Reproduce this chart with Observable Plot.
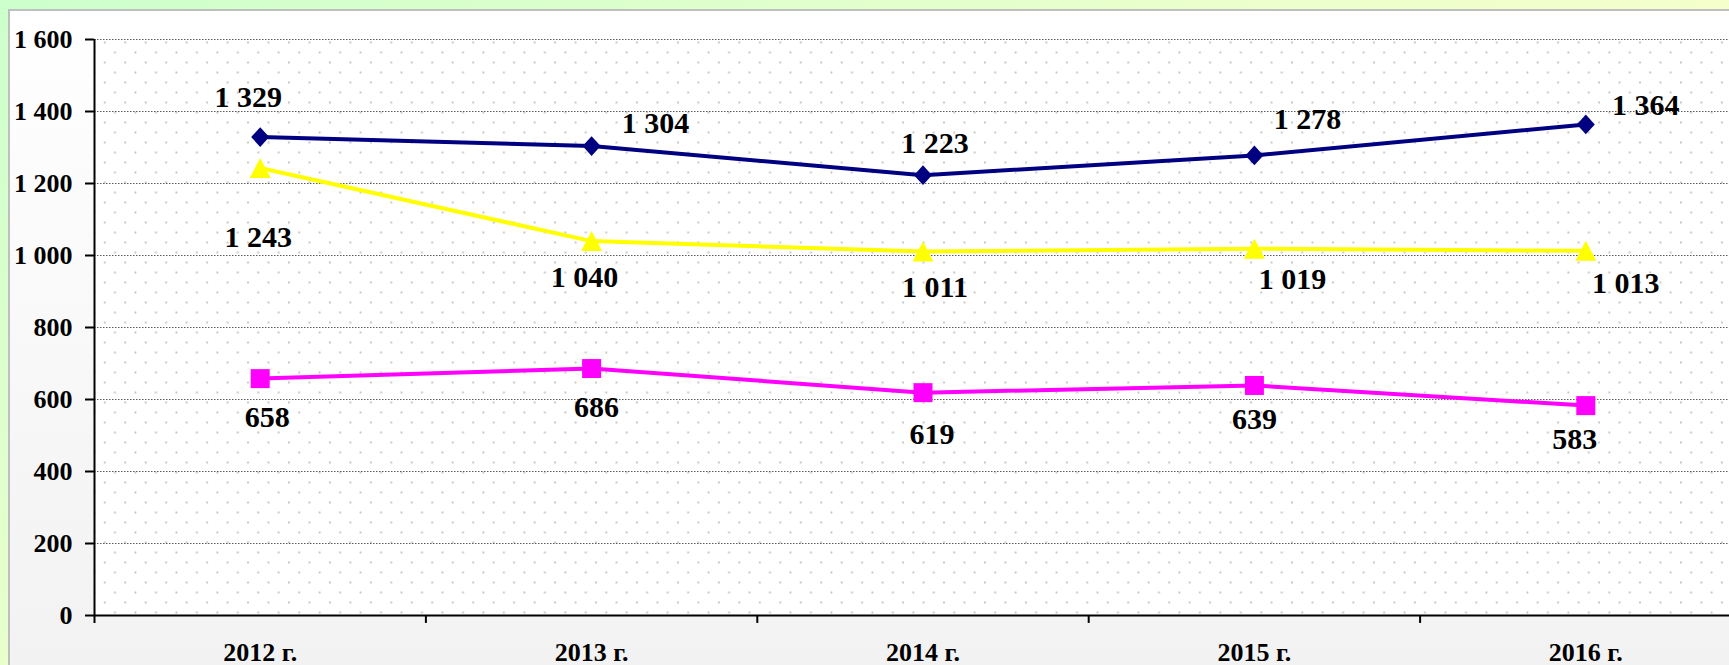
<!DOCTYPE html>
<html>
<head>
<meta charset="utf-8">
<script src="https://cdn.jsdelivr.net/npm/d3@7"></script>
<script src="https://cdn.jsdelivr.net/npm/@observablehq/plot@0.6"></script>
<style>
  html, body { margin: 0; padding: 0; width: 1729px; height: 665px; overflow: hidden; }
  body { position: relative; background: linear-gradient(150deg, #ccffcc 0%, #ecffcc 45%, #ffffcc 80%); }
  #panel { position: absolute; left: 8px; top: 9px; width: 1760px; height: 700px;
           border-left: 2px solid #bfbfbf; border-top: 2px solid #bfbfbf;
           background: linear-gradient(to bottom, #ffffff 0%, #f1f1f1 100%); }
  #chart { position: absolute; left: 0; top: 0; }
</style>
</head>
<body>
<div id="panel"></div>
<div id="chart"></div>
<script>
// ---- data ----
const years = ["2012 г.", "2013 г.", "2014 г.", "2015 г.", "2016 г."];
const seriesNavy = [1329, 1304, 1223, 1278, 1364];
const seriesYellow = [1243, 1040, 1011, 1019, 1013];
const seriesMagenta = [658, 686, 619, 639, 583];
const yTicks = [0, 200, 400, 600, 800, 1000, 1200, 1400, 1600];

// label nudges (pixels) relative to each point
const nudgeNavy = [[-12, -40], [64, -23], [12, -32], [53, -36], [60, -19]];
const nudgeYellow = [[-2, 69], [-7, 36], [12, 36], [38, 31], [40, 33]];
const nudgeMagenta = [[7, 39], [5, 39], [9, 42], [0, 34], [-11, 34]];

// ---- layout ----
const W = 1760, H = 665;
const mL = 94, mT = 39, mB = 50, mR = W - 1751;
const step = (W - mR - mL) / years.length;
const serif = "'Liberation Serif', 'Times New Roman', serif";
const fmt = d => d3.format(",")(d).replace(/,/g, " ");

const diamondSym = {draw(ctx, size) { const r = Math.sqrt(size / Math.PI);
  ctx.moveTo(0, -r * 1.1); ctx.lineTo(r, 0); ctx.lineTo(0, r * 1.1); ctx.lineTo(-r, 0); ctx.closePath(); }};
const squareSym = {draw(ctx, size) { const r = Math.sqrt(size / Math.PI);
  ctx.rect(-r, -r, 2 * r, 2 * r); }};
const triSym = {draw(ctx, size) { const r = Math.sqrt(size / Math.PI);
  ctx.moveTo(0, -r); ctx.lineTo(r * 1.05, r); ctx.lineTo(-r * 1.05, r); ctx.closePath(); }};

const series = [
  {vals: seriesNavy, color: "#000080", sym: diamondSym, r: 9, nudge: nudgeNavy},
  {vals: seriesYellow, color: "#ffff00", sym: triSym, r: 10, nudge: nudgeYellow},
  {vals: seriesMagenta, color: "#ff00ff", sym: squareSym, r: 9.5, nudge: nudgeMagenta}
];

const marks = [
  Plot.frame({fill: "white"}),
  Plot.frame({fill: "url(#dots)"}),
  Plot.gridY(yTicks.filter(d => d > 0), {stroke: "#5a5a5a", strokeOpacity: 1, strokeWidth: 1, strokeDasharray: "1.5,1.5"}),
  Plot.axisY(yTicks, {tickSize: 9, tickPadding: 13, tickFormat: fmt, fontSize: 26, fontWeight: "bold",
    fontFamily: serif, fill: "black", stroke: "black", strokeWidth: 2, label: null}),
  Plot.axisX({tickSize: 0, tickPadding: 27, fontSize: 26, fontWeight: "bold", fontFamily: serif, fill: "black", label: null}),
  Plot.ruleY([0], {stroke: "black", strokeWidth: 2}),
  Plot.ruleX([years[0]], {dx: -step / 2, y1: -22, y2: 1600, stroke: "black", strokeWidth: 2}),
  Plot.ruleX(years.slice(1), {dx: -step / 2, y1: -22, y2: 0, stroke: "black", strokeWidth: 2}),
  Plot.ruleX([years[years.length - 1]], {dx: step / 2, y1: -22, y2: 0, stroke: "black", strokeWidth: 2})
];

for (const s of series) {
  const data = years.map((y, i) => ({year: y, value: s.vals[i]}));
  marks.push(Plot.line(data, {x: "year", y: "value", stroke: s.color, strokeWidth: 4}));
  marks.push(Plot.dot(data, {x: "year", y: "value", symbol: s.sym, r: s.r, fill: s.color, stroke: "none"}));
}
for (const s of series) {
  years.forEach((y, i) => {
    marks.push(Plot.text([{year: y, value: s.vals[i]}], {
      x: "year", y: "value", text: d => fmt(d.value),
      dx: s.nudge[i][0], dy: s.nudge[i][1],
      fontSize: 30, fontWeight: "bold", fontFamily: serif, fill: "black"
    }));
  });
}

const chart = Plot.plot({
  width: W, height: H,
  marginLeft: mL, marginTop: mT, marginBottom: mB, marginRight: mR,
  style: {background: "transparent", maxWidth: "none", overflow: "visible"},
  x: {type: "point", domain: years, padding: 0.5, round: false},
  y: {domain: [0, 1600], nice: false},
  marks
});

d3.select(chart).insert("defs", ":first-child").html(
  '<pattern id="dots" patternUnits="userSpaceOnUse" width="20.47" height="20" x="0" y="0">' +
  '<circle cx="1.9" cy="2" r="1.1" fill="#bdbdbd"/>' +
  '<circle cx="12.13" cy="12" r="1.1" fill="#bdbdbd"/></pattern>'
);

document.getElementById("chart").appendChild(chart);
</script>
</body>
</html>
